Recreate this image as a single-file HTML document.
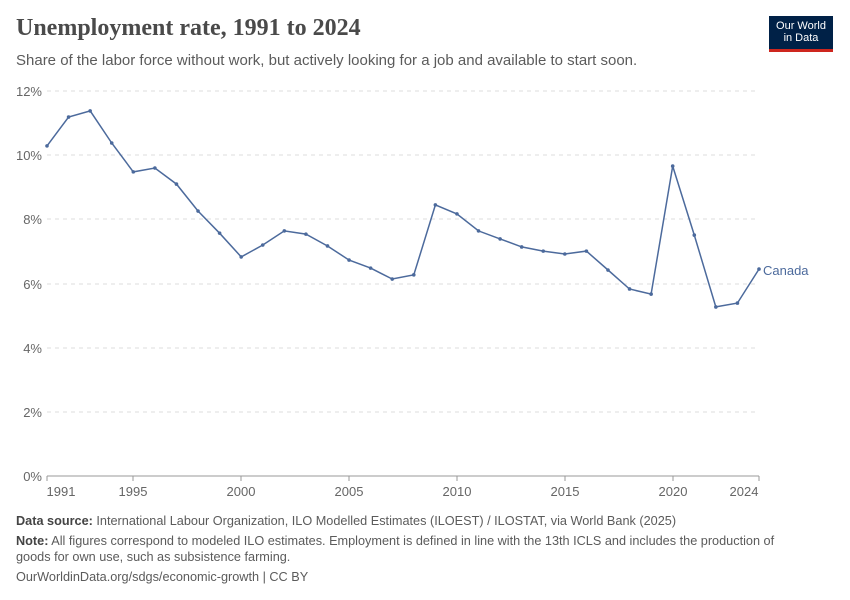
<!DOCTYPE html>
<html><head><meta charset="utf-8"><style>
body{margin:0;background:#fff;font-family:"Liberation Sans",sans-serif;}
.wrap{position:relative;width:850px;height:600px;overflow:hidden;}
h1{position:absolute;left:16px;top:15px;margin:0;font-family:"Liberation Serif",serif;font-weight:bold;font-size:24px;color:#4a4a4a;}
.sub{position:absolute;left:16px;top:52px;font-size:15px;color:#5b5b5b;}
.logo{position:absolute;left:769px;top:16px;width:64px;height:36px;background:#002147;border-bottom:3px solid #ce261e;color:#fff;font-size:11px;line-height:12px;text-align:center;padding-top:4px;box-sizing:border-box;}
.foot{position:absolute;left:16px;font-size:12.7px;color:#5b5b5b;line-height:16px;}
.foot b{color:#444;}
</style></head><body><div class="wrap">
<h1>Unemployment rate, 1991 to 2024</h1>
<div class="sub">Share of the labor force without work, but actively looking for a job and available to start soon.</div>
<div class="logo">Our World<br>in Data</div>
<svg width="850" height="600" style="position:absolute;left:0;top:0" font-family="Liberation Sans, sans-serif">
<g stroke="#ddd" stroke-dasharray="4,4">
<line x1="47" x2="759" y1="91" y2="91"/><line x1="47" x2="759" y1="155" y2="155"/><line x1="47" x2="759" y1="219" y2="219"/><line x1="47" x2="759" y1="284" y2="284"/><line x1="47" x2="759" y1="348" y2="348"/><line x1="47" x2="759" y1="412" y2="412"/>
</g>
<line x1="47" x2="759" y1="476" y2="476" stroke="#999"/>
<g font-size="13" fill="#666" text-anchor="end">
<text x="42" y="96">12%</text><text x="42" y="160">10%</text><text x="42" y="224">8%</text><text x="42" y="289">6%</text><text x="42" y="353">4%</text><text x="42" y="417">2%</text><text x="42" y="481">0%</text>
</g>
<g font-size="13" fill="#666" text-anchor="middle">
<text x="61" y="496">1991</text><text x="133" y="496">1995</text><text x="241" y="496">2000</text><text x="349" y="496">2005</text><text x="457" y="496">2010</text><text x="565" y="496">2015</text><text x="673" y="496">2020</text><text x="744" y="496">2024</text>
</g>
<g stroke="#999"><line x1="47" x2="47" y1="476" y2="481"/><line x1="133" x2="133" y1="476" y2="481"/><line x1="241" x2="241" y1="476" y2="481"/><line x1="349" x2="349" y1="476" y2="481"/><line x1="457" x2="457" y1="476" y2="481"/><line x1="565" x2="565" y1="476" y2="481"/><line x1="673" x2="673" y1="476" y2="481"/><line x1="759" x2="759" y1="476" y2="481"/></g>
<polyline id="ln" fill="none" stroke="#4c6a9c" stroke-width="1.5" points=""/>
<g id="dots" fill="#4c6a9c"></g>
<text x="763" y="275" font-size="13" fill="#4c6a9c">Canada</text>
</svg>
<div class="foot" style="top:513px"><b>Data source:</b> International Labour Organization, ILO Modelled Estimates (ILOEST) / ILOSTAT, via World Bank (2025)</div>
<div class="foot" style="top:533px;width:780px"><b>Note:</b> All figures correspond to modeled ILO estimates. Employment is defined in line with the 13th ICLS and includes the production of goods for own use, such as subsistence farming.</div>
<div class="foot" style="top:569px">OurWorldinData.org/sdgs/economic-growth | CC BY</div>
<script>
var v=[10.29,11.19,11.38,10.38,9.48,9.6,9.1,8.26,7.57,6.83,7.2,7.64,7.54,7.17,6.73,6.48,6.14,6.27,8.45,8.17,7.64,7.39,7.14,7.01,6.92,7.01,6.42,5.83,5.67,9.66,7.51,5.27,5.39,6.45];
var p=[],d='';
v.forEach(function(y,i){var X=47+i*712/33,Y=476-y*32.08;p.push(X.toFixed(1)+','+Y.toFixed(1));d+='<circle cx="'+X+'" cy="'+Y+'" r="1.8"/>';});
document.getElementById('ln').setAttribute('points',p.join(' '));
document.getElementById('dots').innerHTML=d;
</script>
</div></body></html>
